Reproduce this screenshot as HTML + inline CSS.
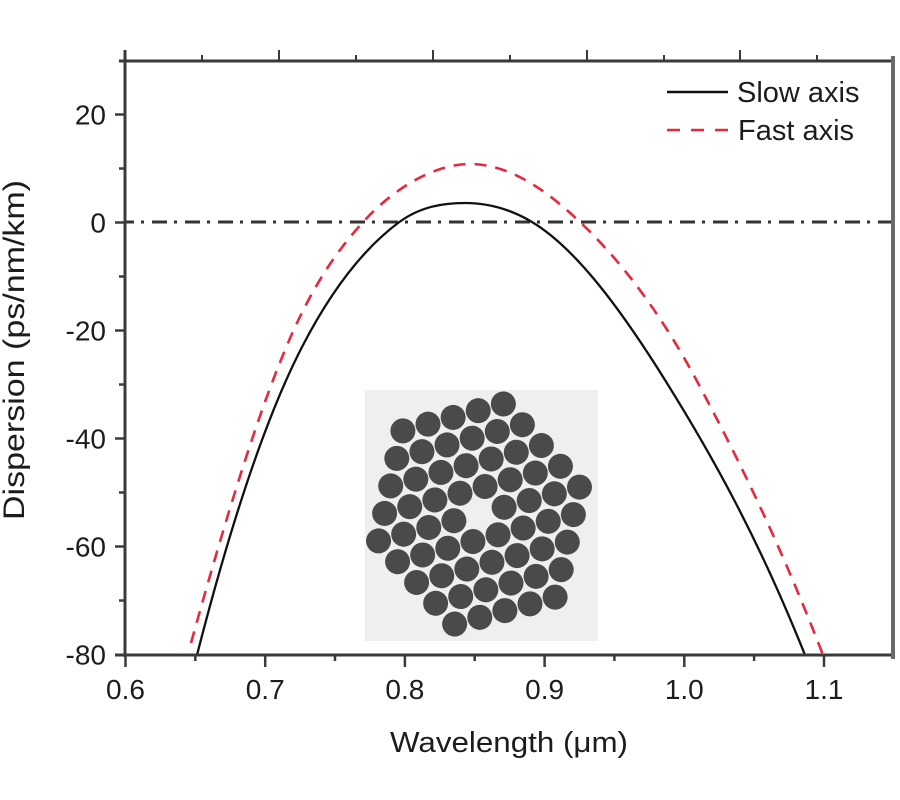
<!DOCTYPE html>
<html>
<head>
<meta charset="utf-8">
<style>
  html, body { margin:0; padding:0; background:#ffffff; }
  svg { display:block; }
  text { font-family: "Liberation Sans", "DejaVu Sans", sans-serif; fill:#1c1c1c; }
</style>
</head>
<body>
<svg width="900" height="800" viewBox="0 0 900 800" xmlns="http://www.w3.org/2000/svg">
  <rect x="0" y="0" width="900" height="800" fill="#ffffff"/>

  <!-- inset image -->
  <rect x="365" y="390" width="233" height="251" fill="#efefef"/>
  <g transform="rotate(-15 479 514)" fill="#4a4a4a">
    <circle cx="427" cy="414" r="12.5"/><circle cx="453" cy="414" r="12.5"/><circle cx="479" cy="414" r="12.5"/><circle cx="505" cy="414" r="12.5"/><circle cx="531" cy="414" r="12.5"/>
    <circle cx="414" cy="439" r="12.5"/><circle cx="440" cy="439" r="12.5"/><circle cx="466" cy="439" r="12.5"/><circle cx="492" cy="439" r="12.5"/><circle cx="518" cy="439" r="12.5"/><circle cx="544" cy="439" r="12.5"/>
    <circle cx="401" cy="464" r="12.5"/><circle cx="427" cy="464" r="12.5"/><circle cx="453" cy="464" r="12.5"/><circle cx="479" cy="464" r="12.5"/><circle cx="505" cy="464" r="12.5"/><circle cx="531" cy="464" r="12.5"/><circle cx="557" cy="464" r="12.5"/>
    <circle cx="388" cy="489" r="12.5"/><circle cx="414" cy="489" r="12.5"/><circle cx="440" cy="489" r="12.5"/><circle cx="466" cy="489" r="12.5"/><circle cx="492" cy="489" r="12.5"/><circle cx="518" cy="489" r="12.5"/><circle cx="544" cy="489" r="12.5"/><circle cx="570" cy="489" r="12.5"/>
    <circle cx="375" cy="514" r="12.5"/><circle cx="401" cy="514" r="12.5"/><circle cx="427" cy="514" r="12.5"/><circle cx="453" cy="514" r="12.5"/><circle cx="505" cy="514" r="12.5"/><circle cx="531" cy="514" r="12.5"/><circle cx="557" cy="514" r="12.5"/><circle cx="583" cy="514" r="12.5"/>
    <circle cx="388" cy="539" r="12.5"/><circle cx="414" cy="539" r="12.5"/><circle cx="440" cy="539" r="12.5"/><circle cx="466" cy="539" r="12.5"/><circle cx="492" cy="539" r="12.5"/><circle cx="518" cy="539" r="12.5"/><circle cx="544" cy="539" r="12.5"/><circle cx="570" cy="539" r="12.5"/>
    <circle cx="401" cy="564" r="12.5"/><circle cx="427" cy="564" r="12.5"/><circle cx="453" cy="564" r="12.5"/><circle cx="479" cy="564" r="12.5"/><circle cx="505" cy="564" r="12.5"/><circle cx="531" cy="564" r="12.5"/><circle cx="557" cy="564" r="12.5"/>
    <circle cx="414" cy="589" r="12.5"/><circle cx="440" cy="589" r="12.5"/><circle cx="466" cy="589" r="12.5"/><circle cx="492" cy="589" r="12.5"/><circle cx="518" cy="589" r="12.5"/><circle cx="544" cy="589" r="12.5"/>
    <circle cx="427" cy="614" r="12.5"/><circle cx="453" cy="614" r="12.5"/><circle cx="479" cy="614" r="12.5"/><circle cx="505" cy="614" r="12.5"/><circle cx="531" cy="614" r="12.5"/>
  </g>

  <!-- zero line -->
  <line x1="125" y1="222" x2="893" y2="222" stroke="#333" stroke-width="3" stroke-dasharray="15 7 3 8" stroke-dashoffset="6"/>

  <!-- slow axis curve -->
  <path fill="none" stroke="#111" stroke-width="2.3" stroke-linejoin="round"
    d="M197,655 C232,518.5 267,414.9 302,347 C334,284.9 366,247 398,223 C420,206.5 443,203 465,203 C487,203 510,208.8 532,222 C576,248.4 621,309.6 665,380 C712,455.2 758,537.5 805,655"/>

  <!-- fast axis curve -->
  <path fill="none" stroke="#e8283c" stroke-width="2.6" stroke-dasharray="12 9" stroke-linejoin="round"
    d="M191,643 C222,531.4 254,424.4 285,350 C312,285.2 338,249.2 365,220 C395,187.6 435,164 470,164 C507,164 543,186.9 580,222 C619,259 659,309.7 698,383 C740,462 781,545.8 823,655"/>

  <!-- axes -->
  <g stroke="#3a3a3a" stroke-width="3" fill="none">
    <line x1="125" y1="50" x2="125" y2="657"/>
    <line x1="115" y1="655" x2="893" y2="655"/>
    <line x1="119" y1="61" x2="893" y2="61"/>
  </g>
  <line x1="893" y1="56" x2="893" y2="659" stroke="#6a6a6a" stroke-width="4"/>

  <!-- y ticks -->
  <g stroke="#3a3a3a" stroke-width="2.5">
    <line x1="115" y1="114.5" x2="125" y2="114.5"/>
    <line x1="115" y1="222.5" x2="125" y2="222.5"/>
    <line x1="115" y1="330.5" x2="125" y2="330.5"/>
    <line x1="115" y1="438.5" x2="125" y2="438.5"/>
    <line x1="115" y1="546.5" x2="125" y2="546.5"/>
    <line x1="119" y1="168.5" x2="125" y2="168.5"/>
    <line x1="119" y1="276.5" x2="125" y2="276.5"/>
    <line x1="119" y1="384.5" x2="125" y2="384.5"/>
    <line x1="119" y1="492.5" x2="125" y2="492.5"/>
    <line x1="119" y1="600.5" x2="125" y2="600.5"/>
  </g>

  <!-- x ticks bottom -->
  <g stroke="#3a3a3a" stroke-width="2.5">
    <line x1="125.5" y1="655" x2="125.5" y2="667"/>
    <line x1="265.2" y1="655" x2="265.2" y2="667"/>
    <line x1="404.9" y1="655" x2="404.9" y2="667"/>
    <line x1="544.6" y1="655" x2="544.6" y2="667"/>
    <line x1="684.3" y1="655" x2="684.3" y2="667"/>
    <line x1="824.0" y1="655" x2="824.0" y2="667"/>
    <line x1="195.3" y1="655" x2="195.3" y2="661"/>
    <line x1="335.0" y1="655" x2="335.0" y2="661"/>
    <line x1="474.7" y1="655" x2="474.7" y2="661"/>
    <line x1="614.4" y1="655" x2="614.4" y2="661"/>
    <line x1="754.1" y1="655" x2="754.1" y2="661"/>
  </g>

  <!-- x ticks top -->
  <g stroke="#3a3a3a" stroke-width="2">
    <line x1="279" y1="61" x2="279" y2="50"/>
    <line x1="433" y1="61" x2="433" y2="50"/>
    <line x1="587" y1="61" x2="587" y2="50"/>
    <line x1="740" y1="61" x2="740" y2="50"/>
    <line x1="202" y1="61" x2="202" y2="55"/>
    <line x1="356" y1="61" x2="356" y2="55"/>
    <line x1="510" y1="61" x2="510" y2="55"/>
    <line x1="664" y1="61" x2="664" y2="55"/>
    <line x1="817" y1="61" x2="817" y2="55"/>
  </g>

  <!-- y tick labels -->
  <g font-size="28" text-anchor="end">
    <text x="106" y="124.5">20</text>
    <text x="106" y="232.5">0</text>
    <text x="106" y="340.5">-20</text>
    <text x="106" y="448.5">-40</text>
    <text x="106" y="556.5">-60</text>
    <text x="106" y="664.5">-80</text>
  </g>

  <!-- x tick labels -->
  <g font-size="28" text-anchor="middle">
    <text x="125.5" y="699">0.6</text>
    <text x="265.2" y="699">0.7</text>
    <text x="404.9" y="699">0.8</text>
    <text x="544.6" y="699">0.9</text>
    <text x="684.3" y="699">1.0</text>
    <text x="824.0" y="699">1.1</text>
  </g>

  <!-- axis titles -->
  <text x="390" y="752" font-size="29" textLength="238" lengthAdjust="spacingAndGlyphs">Wavelength (μm)</text>
  <text transform="translate(24,520) rotate(-90)" x="0" y="0" font-size="30" textLength="340" lengthAdjust="spacingAndGlyphs">Dispersion (ps/nm/km)</text>

  <!-- legend -->
  <line x1="667" y1="92" x2="728" y2="92" stroke="#111" stroke-width="2.5"/>
  <text x="737" y="102" font-size="29">Slow axis</text>
  <line x1="667" y1="130" x2="728" y2="130" stroke="#e8283c" stroke-width="2.6" stroke-dasharray="13 11"/>
  <text x="738" y="140" font-size="29">Fast axis</text>
</svg>
</body>
</html>
